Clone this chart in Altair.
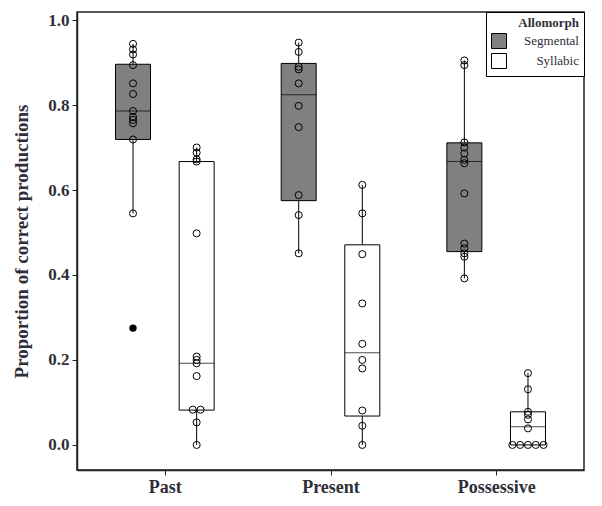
import json
import altair as alt
import pandas as pd

cats = ["Past", "Present", "Possessive"]
allomorphs = ["Segmental", "Syllabic"]

# individual scores (proportion correct) per group
past_seg = [0.944, 0.931, 0.919, 0.894, 0.851, 0.826, 0.786, 0.772, 0.765, 0.757, 0.719, 0.545]
past_seg_outlier = [0.275]
past_syl = [0.700, 0.688, 0.672, 0.667, 0.498, 0.208, 0.200, 0.192, 0.162, 0.083, 0.083, 0.053, 0.0]
pres_seg = [0.947, 0.925, 0.890, 0.884, 0.851, 0.798, 0.748, 0.588, 0.541, 0.451]
pres_syl = [0.612, 0.545, 0.449, 0.333, 0.238, 0.200, 0.180, 0.081, 0.045, 0.0]
poss_seg = [0.905, 0.894, 0.712, 0.700, 0.686, 0.671, 0.663, 0.592, 0.474, 0.463, 0.451, 0.443, 0.392]
poss_syl = [0.169, 0.131, 0.078, 0.071, 0.060, 0.039, 0.0, 0.0, 0.0, 0.0, 0.0]

# box statistics, order: Past Seg, Past Syl, Present Seg, Present Syl, Poss Seg, Poss Syl
box_cat = ["Past", "Past", "Present", "Present", "Possessive", "Possessive"]
box_allo = ["Segmental", "Syllabic"] * 3
q1 = [0.719, 0.082, 0.575, 0.068, 0.455, 0.0]
med = [0.786, 0.192, 0.824, 0.217, 0.667, 0.043]
q3 = [0.896, 0.667, 0.898, 0.471, 0.711, 0.078]
wlo = [0.545, 0.0, 0.451, 0.0, 0.392, 0.0]
whi = [0.944, 0.700, 0.947, 0.612, 0.905, 0.169]

groups = [
    ("Past", "Segmental", past_seg), ("Past", "Syllabic", past_syl),
    ("Present", "Segmental", pres_seg), ("Present", "Syllabic", pres_syl),
    ("Possessive", "Segmental", poss_seg), ("Possessive", "Syllabic", poss_syl),
]
pts = pd.DataFrame(
    [{"cat": c, "allomorph": a, "value": v} for c, a, vals in groups for v in vals]
)
outl = pd.DataFrame([{"cat": "Past", "allomorph": "Segmental", "value": v} for v in past_seg_outlier])
stats = pd.DataFrame({"cat": box_cat, "allomorph": box_allo, "q1": q1, "med": med,
                      "q3": q3, "wlo": wlo, "whi": whi})

GROUP_OFF = 0.192
TIE_STEP = 0.047
cat_js = json.dumps(cats)
pos_expr = f"indexof({cat_js}, datum.cat) + (datum.allomorph == 'Segmental' ? -{GROUP_OFF} : {GROUP_OFF})"

font = "Liberation Serif"
txt = "#2e2e38"

xscale = alt.Scale(domain=[-0.5, 2.5], nice=False, zero=False)
yscale = alt.Scale(domain=[-0.059, 1.019], nice=False, zero=False)

xaxis = alt.Axis(values=[0, 1, 2], labelExpr=f"{cat_js}[datum.value]", title=None,
                 grid=False, labelFont=font, labelFontSize=18, labelFontWeight="bold",
                 labelColor=txt, tickSize=5, labelPadding=3, domainColor="#222",
                 tickColor="#222", domainWidth=1.5)
yaxis = alt.Axis(values=[0, 0.2, 0.4, 0.6, 0.8, 1.0], format=".1f",
                 title="Proportion of correct productions", grid=False,
                 labelFont=font, labelFontSize=17, labelFontWeight="bold", labelColor=txt,
                 titleFont=font, titleFontSize=19, titleFontWeight="bold", titleColor=txt,
                 tickSize=5, labelPadding=3, titlePadding=16, domainColor="#222",
                 tickColor="#222", domainWidth=1.5)

sbase = alt.Chart(stats).transform_calculate(pos=pos_expr)
X = alt.X("pos:Q", scale=xscale, axis=xaxis)

whisk_up = sbase.mark_rule(color="black", strokeWidth=1).encode(
    x=X, y=alt.Y("q3:Q", scale=yscale, axis=yaxis), y2="whi:Q")
whisk_dn = sbase.mark_rule(color="black", strokeWidth=1).encode(
    x=X, y=alt.Y("wlo:Q", scale=yscale, axis=yaxis), y2="q1:Q")
boxes = sbase.mark_bar(size=35, stroke="black", strokeWidth=1).encode(
    x=X, y=alt.Y("q1:Q", scale=yscale, axis=yaxis), y2="q3:Q",
    fill=alt.Fill("allomorph:N", scale=alt.Scale(domain=allomorphs, range=["#808080", "#ffffff"]),
                  legend=alt.Legend(title="Allomorph", orient="top-right", offset=0,
                                    symbolType="square", symbolSize=225,
                                    symbolStrokeColor="black", symbolStrokeWidth=1,
                                    labelFont=font, labelFontSize=13, labelColor=txt,
                                    labelAlign="right", labelOffset=72,
                                    titleFont=font, titleFontSize=13, titleFontWeight="bold",
                                    titleColor=txt, titleAnchor="end", titlePadding=3,
                                    padding=5, rowPadding=0, strokeColor="black",
                                    fillColor="white")))
medians = sbase.mark_tick(orient="horizontal", size=35, thickness=1, color="black").encode(
    x=X, y=alt.Y("med:Q", scale=yscale, axis=yaxis))

points = alt.Chart(pts).transform_window(
    tie_rank="row_number()", groupby=["cat", "allomorph", "value"]
).transform_joinaggregate(
    tie_n="count()", groupby=["cat", "allomorph", "value"]
).transform_calculate(
    pos=pos_expr + f" + (datum.tie_rank - 1 - (datum.tie_n - 1) / 2) * {TIE_STEP}"
).mark_point(shape="circle", filled=False, stroke="black", strokeWidth=1, size=50, opacity=1).encode(
    x=X, y=alt.Y("value:Q", scale=yscale, axis=yaxis))

outliers = alt.Chart(outl).transform_calculate(pos=pos_expr).mark_point(
    shape="circle", filled=True, color="black", size=55, opacity=1).encode(
    x=X, y=alt.Y("value:Q", scale=yscale, axis=yaxis))

chart = alt.layer(whisk_up, whisk_dn, boxes, medians, points, outliers).properties(
    width=507, height=458, autosize="none", background="white",
    padding={"left": 69, "top": 4, "right": 5, "bottom": 30},
).configure_view(stroke="#222", strokeWidth=1.5)

chart.save("out.html", embed_options={"renderer": "svg", "actions": False})
